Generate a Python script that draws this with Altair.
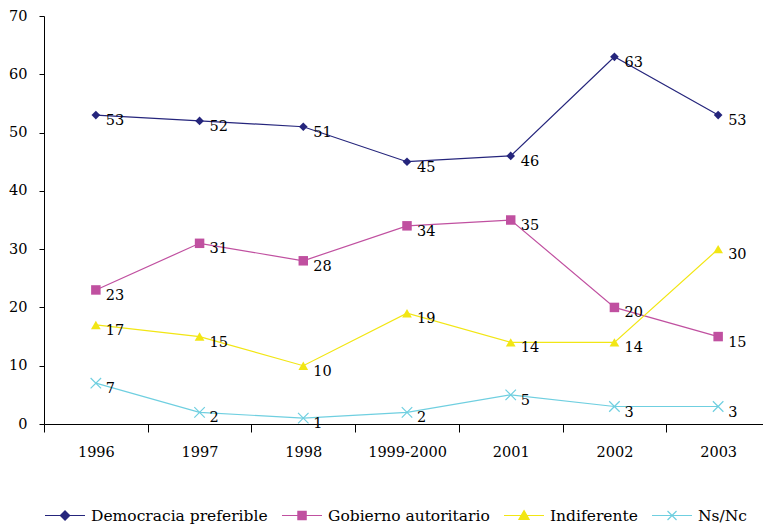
import altair as alt
import pandas as pd

years = ["1996", "1997", "1998", "1999-2000", "2001", "2002", "2003"]
series = ["Democracia preferible", "Gobierno autoritario", "Indiferente", "Ns/Nc"]
democracia = [53, 52, 51, 45, 46, 63, 53]
gobierno = [23, 31, 28, 34, 35, 20, 15]
indiferente = [17, 15, 10, 19, 14, 14, 30]
nsnc = [7, 2, 1, 2, 5, 3, 3]
colors = ["#25257c", "#c050a0", "#f2e614", "#6fcfe0"]

values = [democracia, gobierno, indiferente, nsnc]
rows = []
for s, vals in zip(series, values):
    for y, v in zip(years, vals):
        rows.append({"year": y, "series": s, "value": v})
df = pd.DataFrame(rows)

FONT = "DejaVu Serif"

point_shapes = ["diamond", "square", "triangle-up", "M-1,-1L1,1M-1,1L1,-1"]
point_sizes = [75, 90, 95, 110]
point_filled = [True, True, True, False]

legend_paths = [
    "M-1,0H4.33M1.67,-0.62L2.29,0L1.67,0.62L1.05,0Z",
    "M-1,0H4.33M1.12,-0.55H2.22V0.55H1.12Z",
    "M-1,0H4.33M1.67,-0.65L2.35,0.52H0.99Z",
    "M-1,0H4.33M1.07,-0.6L2.27,0.6M1.07,0.6L2.27,-0.6",
]

x_enc = alt.X(
    "year:N",
    sort=years,
    bandPosition=0.5,
    scale=alt.Scale(type="band", paddingInner=0, paddingOuter=0),
    axis=alt.Axis(
        title=None, labelAngle=0, tickBand="extent", tickSize=8,
        labelPadding=13, domainColor="black", tickColor="black",
    ),
)
y_enc = alt.Y(
    "value:Q",
    scale=alt.Scale(domain=[0, 70], nice=False),
    axis=alt.Axis(
        title=None, values=list(range(0, 71, 10)), tickSize=5,
        labelPadding=12, grid=False, domainColor="black", tickColor="black",
    ),
)

base = alt.Chart(df)

line_layers = []
point_layers = []
for s, c, shp, sz, fl in zip(series, colors, point_shapes, point_sizes, point_filled):
    sub = base.transform_filter(alt.datum.series == s)
    line_layers.append(
        sub.mark_line(strokeWidth=1.2, color=c).encode(x=x_enc, y=y_enc)
    )
    point_layers.append(
        sub.mark_point(shape=shp, size=sz, filled=fl, color=c, opacity=1, strokeWidth=1.2)
        .encode(x=x_enc, y=y_enc)
    )

labels = base.mark_text(
    align="left", baseline="middle", dx=10, dy=6,
    font=FONT, fontSize=14.5, color="black",
).encode(x=x_enc, y=y_enc, text="value:Q")

leg = alt.Legend(
    title=None, orient="bottom", direction="horizontal",
    symbolSize=225, symbolOpacity=1, symbolStrokeWidth=1.2,
    labelFont=FONT, labelFontSize=15.5, labelColor="black",
    labelOffset=30, columnPadding=11, offset=48, labelLimit=400,
)

legend_layer = base.mark_point(filled=True, opacity=0, size=225).encode(
    x=x_enc, y=y_enc,
    color=alt.Color("series:N", scale=alt.Scale(domain=series, range=colors), legend=leg),
    stroke=alt.Stroke("series:N", scale=alt.Scale(domain=series, range=colors), legend=leg),
    shape=alt.Shape("series:N", scale=alt.Scale(domain=series, range=legend_paths), legend=leg),
)

chart = alt.layer(*line_layers, *point_layers, labels, legend_layer).properties(
    width=726, height=408,
    padding={"left": 0, "top": 0, "right": -8, "bottom": 0},
).configure_view(stroke=None).configure_axis(
    labelFont=FONT, labelFontSize=14.5, labelColor="black",
    domainWidth=1, tickWidth=1,
)

chart.save("out.html", embed_options={"renderer": "svg", "actions": False})
